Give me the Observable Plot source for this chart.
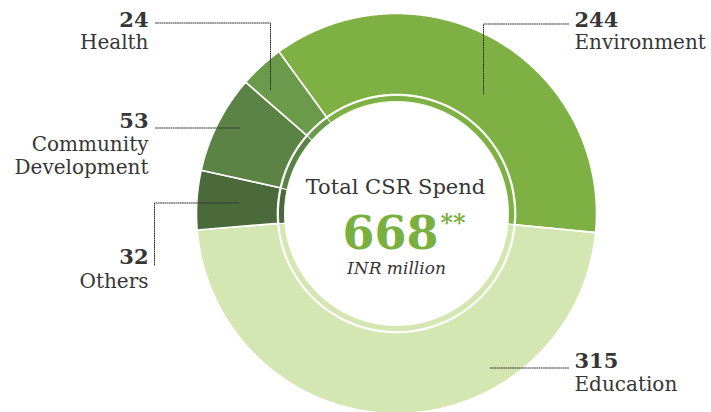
<!DOCTYPE html>
<html><head><meta charset="utf-8">
<script src="https://cdn.jsdelivr.net/npm/d3@7"></script>
<script src="https://cdn.jsdelivr.net/npm/@observablehq/plot@0.6"></script>
<style>html,body{margin:0;padding:0;background:#fff} svg{display:block}</style>
</head><body><div id="chart"></div>
<script>
// ---- data ----
const categories = ["Environment", "Education", "Others", "Community Development", "Health"];
const values = [244, 315, 32, 53, 24];
const labelNames = ["Environment", "Education", "Others", "Community\nDevelopment", "Health"];
const sliceColors = ["#7eb043", "#d4e6b1", "#4b6a3b", "#5b8346", "#6b9a4b"];
const totalValue = "668";
const totalMark = "**";
const totalTitle = "Total CSR Spend";
const unitLabel = "INR million";

// ---- layout (pixels) ----
const W = 711, H = 412, cx = 396, cy = 213, R = 200;
const toX = px => (px - cx) / R, toY = py => (cy - py) / R;
const FONT = "DejaVu Serif";
const TEXT = "#363636";

// label layout per category index: anchor x, number baseline, name baseline, leader polyline
const labelLayout = [
  {x: 574, anchor: "start", numY: 26, nameY: 48, leader: [[568, 23], [483, 23], [483, 94]]},
  {x: 574, anchor: "start", numY: 367, nameY: 390, leader: [[568, 367], [489, 367]]},
  {x: 148, anchor: "end", numY: 263, nameY: 287, leader: [[238, 202], [154, 202], [154, 264]]},
  {x: 148, anchor: "end", numY: 127, nameY: 173, leader: [[155, 127], [239, 127]]},
  {x: 148, anchor: "end", numY: 26, nameY: 48, leader: [[155, 22], [270, 22], [270, 89]]}
];

// ---- geometry from data ----
const a0 = -36 * Math.PI / 180;
const slices = d3.pie().sort(null).startAngle(a0).endAngle(a0 + 2 * Math.PI)(values);

function ring(r0, r1, tag) {
  const pts = [];
  slices.forEach((s, i) => {
    const n = Math.max(2, Math.ceil((s.endAngle - s.startAngle) / (Math.PI / 360)));
    for (let k = 0; k <= n; k++) {
      const a = s.startAngle + (s.endAngle - s.startAngle) * k / n;
      pts.push({key: tag + i, cat: categories[i], x: r1 * Math.sin(a), y: r1 * Math.cos(a)});
    }
    for (let k = n; k >= 0; k--) {
      const a = s.startAngle + (s.endAngle - s.startAngle) * k / n;
      pts.push({key: tag + i, cat: categories[i], x: r0 * Math.sin(a), y: r0 * Math.cos(a)});
    }
  });
  return pts;
}
const band = ring(0.595, 1.0, "b");
const inner = ring(0.56, 0.59, "r");

const leaders = [];
labelLayout.forEach((l, i) => l.leader.forEach(([px, py]) => leaders.push({key: i, x: toX(px), y: toY(py + 0.5)})));

const numLabels = values.map((v, i) => ({x: toX(labelLayout[i].x), y: toY(labelLayout[i].numY), text: String(v), anchor: labelLayout[i].anchor}));
const nameLabels = labelNames.map((t, i) => ({x: toX(labelLayout[i].x), y: toY(labelLayout[i].nameY), text: t, anchor: labelLayout[i].anchor}));

const numStyle = {x: "x", y: "y", text: "text", lineAnchor: "bottom", fontSize: 21, fontWeight: "bold", fill: TEXT, fontFamily: FONT};
const nameStyle = {x: "x", y: "y", text: "text", lineAnchor: "bottom", lineHeight: 1.15, fontSize: 20, fill: TEXT, fontFamily: FONT};

const chart = Plot.plot({
  width: W, height: H,
  margin: 0, marginTop: 0, marginRight: 0, marginBottom: 0, marginLeft: 0,
  x: {domain: [toX(0), toX(W)], axis: null},
  y: {domain: [toY(H), toY(0)], axis: null},
  color: {domain: categories, range: sliceColors},
  style: {fontFamily: FONT, background: "#fff"},
  marks: [
    Plot.line(band, {x: "x", y: "y", z: "key", fill: "cat", stroke: "white", strokeWidth: 1.6, curve: "linear-closed"}),
    Plot.line(inner, {x: "x", y: "y", z: "key", fill: "cat", stroke: "white", strokeWidth: 1, curve: "linear-closed"}),
    Plot.line(leaders, {x: "x", y: "y", z: "key", stroke: "#333", strokeWidth: 1, strokeDasharray: "1,1.2", curve: "linear"}),
    Plot.text(numLabels.filter(d => d.anchor === "start"), {...numStyle, textAnchor: "start"}),
    Plot.text(numLabels.filter(d => d.anchor === "end"), {...numStyle, textAnchor: "end"}),
    Plot.text(nameLabels.filter(d => d.anchor === "start"), {...nameStyle, textAnchor: "start"}),
    Plot.text(nameLabels.filter(d => d.anchor === "end"), {...nameStyle, textAnchor: "end"}),
    Plot.text([totalTitle], {x: toX(395), y: toY(193), text: d => d, textAnchor: "middle", lineAnchor: "bottom", fontSize: 21, fill: TEXT, fontFamily: FONT}),
    Plot.text([totalValue], {x: toX(390), y: toY(248), text: d => d, textAnchor: "middle", lineAnchor: "bottom", fontSize: 46, fontWeight: "bold", fill: "#7ab040", fontFamily: FONT}),
    Plot.text([totalMark], {x: toX(440), y: toY(230), text: d => d, textAnchor: "start", lineAnchor: "bottom", fontSize: 24, fontWeight: "bold", fill: "#7ab040", fontFamily: FONT}),
    Plot.text([unitLabel], {x: toX(396), y: toY(273), text: d => d, textAnchor: "middle", lineAnchor: "bottom", fontSize: 17, fontStyle: "italic", fill: TEXT, fontFamily: FONT})
  ]
});
document.getElementById("chart").appendChild(chart);
</script>
</body></html>
